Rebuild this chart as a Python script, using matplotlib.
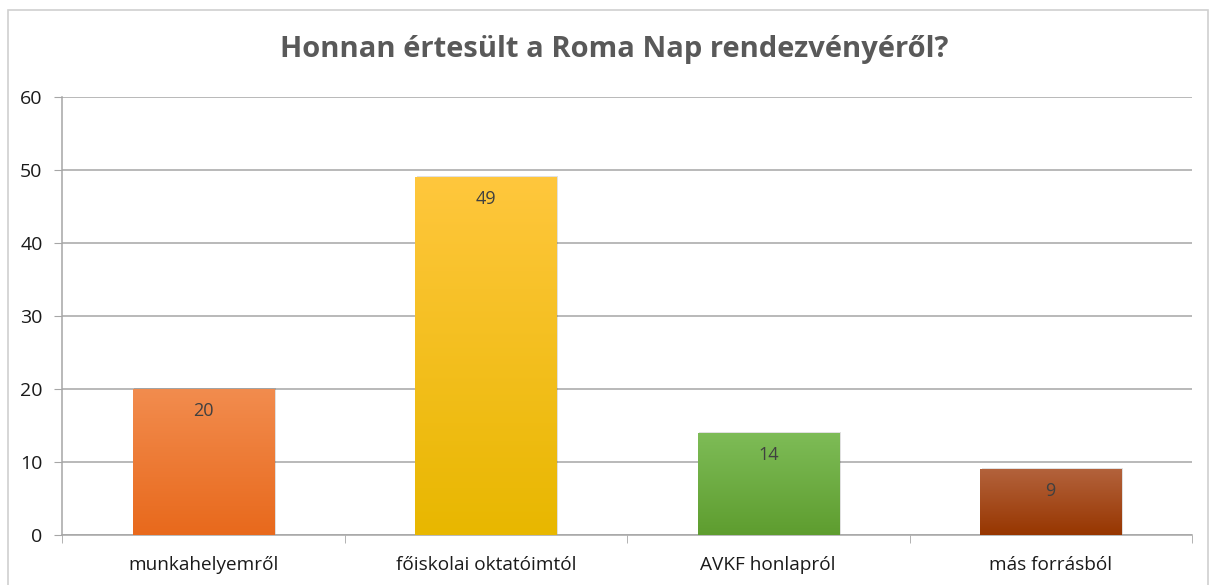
import numpy as np
import matplotlib as mpl
mpl.use('Agg')
import matplotlib.pyplot as plt
from matplotlib.colors import LinearSegmentedColormap
from matplotlib.patches import Rectangle

categories = ['munkahelyemről', 'főiskolai oktatóimtól', 'AVKF honlapról', 'más forrásból']
values = [20, 49, 14, 9]
top_colors = ['#F28C4E', '#FFC73D', '#7EBC57', '#B3623C']
bottom_colors = ['#E8691C', '#E8B700', '#5E9D2F', '#973600']
title = 'Honnan értesült a Roma Nap rendezvényéről?'
yticks = [0, 10, 20, 30, 40, 50, 60]

plt.rcParams['font.family'] = ['Open Sans', 'DejaVu Sans']

fig = plt.figure(figsize=(12.12, 5.85), dpi=100)
# outer chart frame
fig.patches.append(Rectangle((0.007, -0.01), 0.99, 0.993, transform=fig.transFigure,
                             fill=False, edgecolor='#D0D0D0', linewidth=1.2))
ax = fig.add_axes([62 / 1212, 1 - 535 / 585, (1192 - 62) / 1212, (535 - 97) / 585])

x = np.arange(len(categories))
bars = ax.bar(x, values, width=0.5, color='none', edgecolor='none', zorder=3)
grad = np.linspace(0, 1, 256).reshape(-1, 1)
for b, c1, c2, v in zip(bars, top_colors, bottom_colors, values):
    cmap = LinearSegmentedColormap.from_list('g', [c2, c1])
    x0, w, h = b.get_x(), b.get_width(), b.get_height()
    # soft shadow
    ax.add_patch(Rectangle((x0 + 0.006, 0), w, h + 0.15, facecolor='#000000', alpha=0.12,
                           edgecolor='none', zorder=2))
    im = ax.imshow(grad, extent=[x0, x0 + w, 0, h], origin='lower', aspect='auto',
                   cmap=cmap, zorder=3)
    im.set_clip_path(b)
    ax.text(b.get_x() + w / 2, h - 1.8, str(v), ha='center', va='top',
            fontsize=13, color='#404040', zorder=4)

ax.set_xlim(-0.5, len(categories) - 0.5)
ax.set_ylim(0, 60)
ax.set_yticks(yticks)
ax.yaxis.grid(True, color='#A6A6A6', linewidth=1.1)
ax.set_axisbelow(True)
ax.set_xticks(x)
ax.set_xticklabels(categories, fontsize=13.7, color='#1A1A1A')
ax.set_xticks(np.arange(-0.5, len(categories)), minor=True)
ax.tick_params(axis='x', which='major', length=0, pad=15)
ax.tick_params(axis='x', which='minor', length=6, color='#A6A6A6', direction='out')
ax.tick_params(axis='y', length=6, color='#A6A6A6', labelsize=14, labelcolor='#1A1A1A', pad=8)
for s in ['top', 'right']:
    ax.spines[s].set_visible(False)
for s in ['left', 'bottom']:
    ax.spines[s].set_color('#A6A6A6')
    ax.spines[s].set_linewidth(1.1)

fig.text(0.507, 1 - 50 / 585, title, ha='center', va='center', fontsize=21,
         fontweight='bold', color='#595959')

fig.savefig('out.png', dpi=100)
